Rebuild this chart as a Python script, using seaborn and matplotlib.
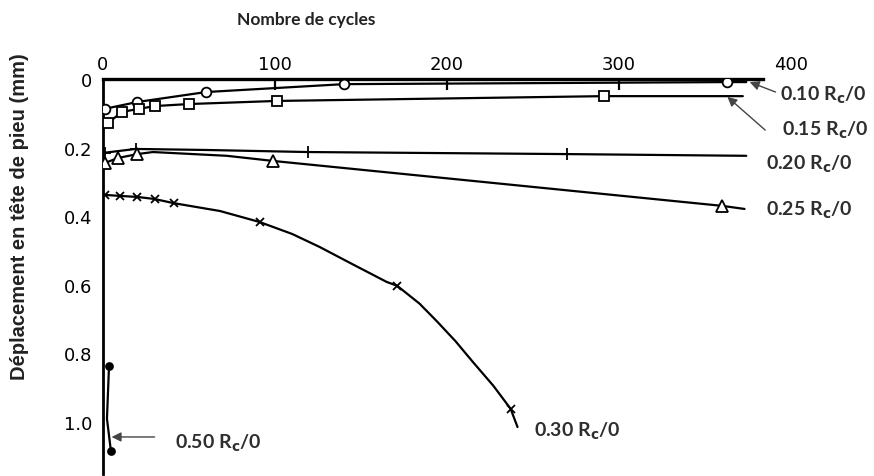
import numpy as np
import pandas as pd
import matplotlib
matplotlib.use('Agg')
import matplotlib.pyplot as plt
import seaborn as sns

# %% Donnees
# 0.10 Rc/0 - cercles
c010 = [1, 20, 60, 140, 363, 374]
d010 = [0.087, 0.067, 0.038, 0.015, 0.009, 0.009]
m010 = [True, True, True, True, True, False]

# 0.15 Rc/0 - carres
c015 = [3, 11, 21, 30, 50, 101, 291, 372]
d015 = [0.128, 0.096, 0.087, 0.079, 0.073, 0.064, 0.050, 0.050]
m015 = [True, True, True, True, True, True, True, False]

# 0.20 Rc/0 - croix +
c020 = [1, 19, 60, 119, 270, 374]
d020 = [0.215, 0.204, 0.207, 0.213, 0.219, 0.224]
m020 = [True, True, False, True, True, False]

# 0.25 Rc/0 - triangles
c025 = [1, 9, 20, 29, 72, 99, 360, 373]
d025 = [0.245, 0.230, 0.219, 0.213, 0.224, 0.239, 0.370, 0.379]
m025 = [True, True, True, False, False, True, True, False]

# 0.30 Rc/0 - x
c030 = [1, 10, 20, 30, 41, 68, 91, 110, 126, 145, 165, 171, 184, 194,
        205, 215, 227, 237, 241]
d030 = [0.338, 0.341, 0.344, 0.350, 0.362, 0.385, 0.417, 0.452, 0.490,
        0.540, 0.592, 0.603, 0.655, 0.706, 0.765, 0.825, 0.895, 0.962, 1.015]
m030 = [True, True, True, True, True, False, True, False, False, False,
        False, True, False, False, False, False, False, True, False]

# 0.50 Rc/0 - points pleins
c050 = [3.5, 2.3, 4.6]
d050 = [0.837, 0.991, 1.085]
m050 = [True, False, True]

x_ticks = [0, 100, 200, 300, 400]
y_ticks = [0, 0.2, 0.4, 0.6, 0.8, 1.0]
y_ticklabels = ['0', '0.2', '0.4', '0.6', '0.8', '1.0']

series = [
    ('0.10', c010, d010, m010, 'o', 7, 'white'),
    ('0.15', c015, d015, m015, 's', 7, 'white'),
    ('0.20', c020, d020, m020, '+', 9, 'black'),
    ('0.25', c025, d025, m025, '^', 8, 'white'),
    ('0.30', c030, d030, m030, 'x', 6, 'black'),
    ('0.50', c050, d050, m050, 'o', 5, 'black'),
]

# positions des etiquettes (gauche, centre)
lab_pos = {
    '0.10': (393.6, 0.044),
    '0.15': (394.8, 0.146),
    '0.20': (385.5, 0.245),
    '0.25': (385.5, 0.379),
    '0.30': (250.6, 1.026),
    '0.50': (41.9, 1.061),
}

# %% Figure
sns.set_style('white')
plt.rcParams['font.family'] = ['DejaVu Sans']

fig = plt.figure(figsize=(8.74, 4.77), dpi=100)
ax = fig.add_axes([103 / 874, 2 / 477, 688 / 874, 395 / 477])

for name, cx, dy, mk, marker, ms, fc in series:
    df = pd.DataFrame({'cycles': cx, 'depl': dy, 'mk': mk})
    sns.lineplot(data=df, x='cycles', y='depl', sort=False, color='black',
                 linewidth=1.6, ax=ax, estimator=None)
    pts = df[df['mk']]
    if marker in ['+', 'x']:
        ax.plot(pts['cycles'], pts['depl'], linestyle='none', marker=marker,
                markersize=ms, markeredgewidth=1.3, color='black', zorder=4)
    else:
        ax.plot(pts['cycles'], pts['depl'], linestyle='none', marker=marker,
                markersize=ms, markerfacecolor=fc, markeredgecolor='black',
                markeredgewidth=1.3, zorder=4)

ax.set_xlim(0, 400)
ax.set_ylim(1.152, 0)
ax.xaxis.tick_top()
ax.set_xticks(x_ticks)
ax.set_xticklabels([str(v) for v in x_ticks])
ax.set_yticks(y_ticks)
ax.set_yticklabels(y_ticklabels)
ax.tick_params(axis='both', direction='in', length=8, width=1.6,
               labelsize=13, colors='black')
ax.tick_params(axis='x', pad=4, top=True, bottom=False)
ax.tick_params(axis='y', pad=8)
ax.xaxis.get_major_ticks()[-1].tick2line.set_visible(False)
ax.xaxis.get_major_ticks()[0].tick2line.set_visible(False)
ax.yaxis.get_major_ticks()[0].tick1line.set_visible(False)

for s in ['right', 'bottom']:
    ax.spines[s].set_visible(False)
ax.spines['top'].set_bounds(0, 384)
ax.spines['top'].set_linewidth(2.4)
ax.spines['left'].set_linewidth(2.0)
ax.spines['top'].set_color('black')
ax.spines['left'].set_color('black')
ax.set_xlabel('')
ax.set_ylabel('')

# Etiquettes des courbes
for name, (lx, ly) in lab_pos.items():
    ax.text(lx, ly, name + r' R$_\mathbf{c}$/0', fontsize=14, family='Lato',
            fontweight='bold', color='#2e2e2e', ha='left', va='center',
            clip_on=False)

# Fleches
arr = dict(arrowstyle='-|>', color='#444444', lw=1.0, mutation_scale=14,
           shrinkA=0, shrinkB=0)
ax.annotate('', xy=(376, 0.009), xytext=(391, 0.038), arrowprops=arr,
            annotation_clip=False)
ax.annotate('', xy=(363, 0.052), xytext=(385, 0.149), arrowprops=arr,
            annotation_clip=False)
ax.annotate('', xy=(5, 1.044), xytext=(30, 1.044), arrowprops=arr,
            annotation_clip=False)

# Titres
fig.text(306 / 874, 1 - 20 / 477, 'Nombre de cycles', family='Lato',
         fontweight='bold', fontsize=12.5, color='#222222',
         ha='center', va='center')
fig.text(20 / 874, 1 - 217 / 477, 'Déplacement en tête de pieu (mm)',
         family='Liberation Sans', fontweight='bold', fontsize=14.5,
         color='#222222', rotation=90, ha='center', va='center')

fig.savefig('out.png', dpi=100)
